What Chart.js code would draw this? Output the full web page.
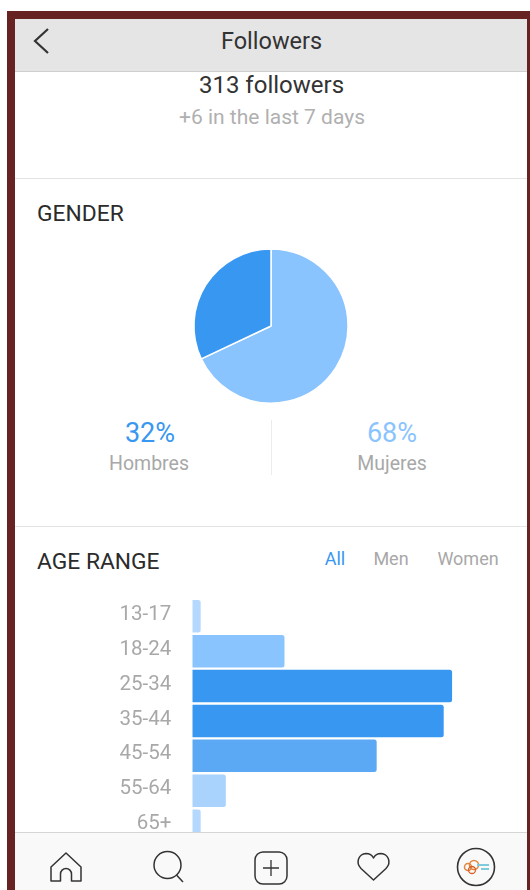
<!DOCTYPE html>
<html><head><meta charset="utf-8">
<script src="https://cdn.jsdelivr.net/npm/chart.js@4/dist/chart.umd.min.js"></script>
<style>
html,body{margin:0;padding:0;background:#fff;width:530px;height:890px;overflow:hidden;font-family:Roboto,sans-serif}
.abs{position:absolute}
#frame{left:7px;top:11px;width:523px;height:879px;background:#672322}
#screen{left:15px;top:19px;width:512px;height:871px;background:#fff}
.t{position:absolute;white-space:nowrap;transform:translate(-50%,-50%);line-height:1}
.l{position:absolute;white-space:nowrap;transform:translateY(-50%);line-height:1;left:37px;color:#2b2b2b;font-size:22.8px}
.rule{position:absolute;left:15px;width:512px;height:1px;background:#e4e4e4}
#head{left:15px;top:19px;width:512px;height:52px;background:#e5e5e5;border-bottom:1px solid #cfcfcf;box-sizing:content-box}
#nav{left:15px;top:832px;width:512px;height:57px;background:#f9f9f9;border-top:1px solid #d5d5d5;border-bottom:1px solid #cfcad0}
</style></head><body>
<div class="abs" id="frame"></div>
<div class="abs" id="screen"></div>

<canvas id="pie" class="abs" width="160" height="160" style="left:191px;top:246px"></canvas>
<canvas id="bars" class="abs" width="505" height="257" style="left:15px;top:590px"></canvas>

<div class="abs" id="head"></div>
<svg class="abs" style="left:30px;top:26px" width="22" height="30"><path d="M18 3 L5 15 L18 27" fill="none" stroke="#333" stroke-width="2.2"/></svg>
<div class="t" style="left:271.500px;top:42px;font-size:23.500px;color:#333">Followers</div>
<div class="t" style="left:271.500px;top:85px;font-size:24px;color:#333">313 followers</div>
<div class="t" style="left:272px;top:117px;font-size:21px;color:#b0b0b0">+6 in the last 7 days</div>
<div class="rule" style="top:178px"></div>
<div class="l" style="top:214px">GENDER</div>

<div class="t" id="pctA" style="left:150px;top:433px;font-size:27px;color:#3897f0"></div>
<div class="t" id="nameA" style="left:149px;top:464px;font-size:19.500px;color:#a8a8a8"></div>
<div class="t" id="pctB" style="left:392px;top:433px;font-size:27px;color:#8ac4ff"></div>
<div class="t" id="nameB" style="left:392px;top:464px;font-size:19.500px;color:#a8a8a8"></div>
<div class="abs" style="left:271px;top:420px;width:1px;height:55px;background:#ececec"></div>
<div class="rule" style="top:526px"></div>

<div class="l" style="top:562px">AGE RANGE</div>
<div class="t" style="left:335px;top:559px;font-size:18px;color:#3897f0">All</div>
<div class="t" style="left:391px;top:559px;font-size:18px;color:#a8a8a8">Men</div>
<div class="t" style="left:468px;top:559px;font-size:18px;color:#a8a8a8">Women</div>

<div class="abs" id="nav"></div>
<svg class="abs" style="left:15px;top:837px" width="512" height="52" fill="none" stroke="#333" stroke-width="1.5">
 <path d="M36 44 V30 L51 16 L66 30 V44 H56.500 V37 a5.500 5.500 0 0 0 -11 0 V44 Z" stroke-linejoin="round"/>
 <circle cx="152.500" cy="28" r="13.500"/><path d="M161.500 38 L168 45"/>
 <rect x="240" y="15" width="32" height="32" rx="8"/><path d="M256 23 V39 M248 31 H264" stroke-width="1.300"/>
 <path d="M358.500 43 L346 31.500 C340 25 344 17 351 16.500 C354.500 16.500 357 18 358.500 21 C360 18 363 16.500 366 16.500 C373 17 377 25 371 31.500 Z" stroke-linejoin="round"/>
 <circle cx="461" cy="30" r="18.500" stroke-width="1.600"/>
 <circle cx="453" cy="30" r="3.500" stroke="#e2853f" stroke-width="1.500"/>
 <circle cx="459" cy="28" r="4.500" stroke="#e2853f" stroke-width="1.500"/>
 <circle cx="457" cy="33" r="3.500" stroke="#d9622b" stroke-width="1.300"/>
 <path d="M462 28 H474 M466 32 H474" stroke="#7fcbdc" stroke-width="2.200"/>
</svg>

<script>
const genderNames = ["Mujeres", "Hombres"];
const genderValues = [68, 32];
const genderColors = ["#8ac4ff", "#3897f0"];
const ageRanges = ["13-17", "18-24", "25-34", "35-44", "45-54", "55-64", "65+"];
const ageValues = [1, 11, 31, 30, 22, 4, 1];
const ageColors = ["#b5d9fe", "#8ac4ff", "#3897f0", "#3897f0", "#5ba9f4", "#a9d2fd", "#b5d9fe"];

document.getElementById('pctA').textContent = genderValues[1] + '%';
document.getElementById('nameA').textContent = genderNames[1];
document.getElementById('pctB').textContent = genderValues[0] + '%';
document.getElementById('nameB').textContent = genderNames[0];

new Chart(document.getElementById('pie'), {
  type: 'pie',
  data: { labels: genderNames, datasets: [{ data: genderValues, backgroundColor: genderColors, borderColor: '#fff', borderWidth: 1.5 }] },
  options: { responsive: false, animation: false, devicePixelRatio: 1,
    layout: { padding: 2.2 },
    plugins: { legend: { display: false }, tooltip: { enabled: false } } }
});

new Chart(document.getElementById('bars'), {
  type: 'bar',
  data: { labels: ageRanges, datasets: [{ data: ageValues, backgroundColor: ageColors, borderRadius: 2.5, borderSkipped: 'left', categoryPercentage: 1, barPercentage: 0.93 }] },
  options: { indexAxis: 'y', responsive: false, animation: false, devicePixelRatio: 1,
    layout: { padding: { top: 8.8, bottom: 3.9, left: 0, right: 9.26 } },
    plugins: { legend: { display: false }, tooltip: { enabled: false } },
    scales: {
      x: { display: false, min: 0, max: 38 },
      y: { afterFit(s) { s.width = 177.3; s.paddingTop = 0; s.paddingBottom = 0; },
        grid: { display: false, drawTicks: false }, border: { display: false },
        ticks: { color: '#a8a8a8', padding: 21, labelOffset: -1.5, autoSkip: false, font: { family: 'Roboto', size: 20.5 } } }
    } }
});
</script>
</body></html>
